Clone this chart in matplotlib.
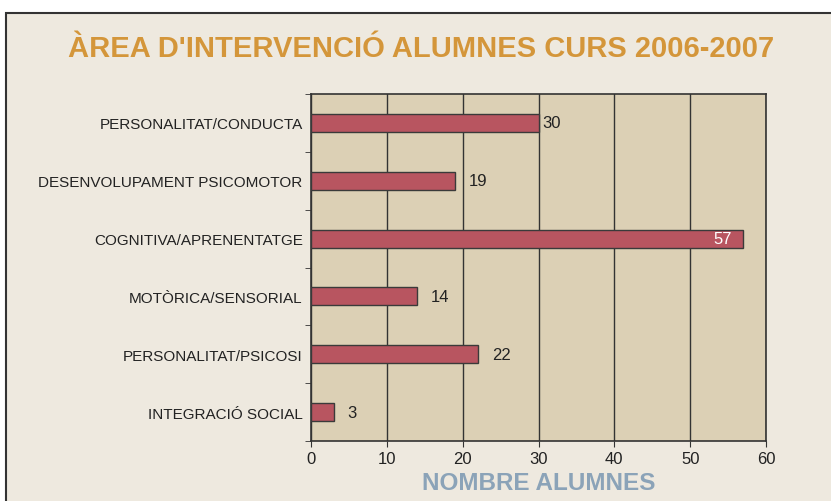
import matplotlib
matplotlib.use("Agg")
import matplotlib.pyplot as plt
from matplotlib.patches import Rectangle
import numpy as np

# data (top to bottom as in the chart)
categories = [
    "PERSONALITAT/CONDUCTA",
    "DESENVOLUPAMENT PSICOMOTOR",
    "COGNITIVA/APRENENTATGE",
    "MOTÒRICA/SENSORIAL",
    "PERSONALITAT/PSICOSI",
    "INTEGRACIÓ SOCIAL",
]
alumnes = [30, 19, 57, 14, 22, 3]
x_ticks = [0, 10, 20, 30, 40, 50, 60]

title = "ÀREA D'INTERVENCIÓ ALUMNES CURS 2006-2007"
xlabel = "NOMBRE ALUMNES"

plt.rcParams["font.family"] = ["Liberation Sans", "DejaVu Sans"]

fig = plt.figure(figsize=(8.31, 5.02), dpi=100)
fig.patch.set_facecolor("white")
# panel background with border
fig.patches.append(Rectangle((6 / 831, -0.01), 1.0, 1 - 14 / 502 + 0.01,
                             transform=fig.transFigure, facecolor="#EEE9DF",
                             edgecolor="#333333", linewidth=1.5, zorder=-1))

ax = fig.add_axes([311 / 831, 1 - 442 / 502, 455 / 831, 347 / 502])
ax.set_zorder(2)
ax.set_facecolor("#DCD0B5")

y = np.arange(len(categories))
ax.barh(y, alumnes, height=0.31, color="#B85560", edgecolor="#3a3a3a",
        linewidth=1, zorder=3)

for yi, v in zip(y, alumnes):
    if v > 50:
        ax.annotate(str(v), (v, yi), xytext=(-8, 0), textcoords="offset points",
                    ha="right", va="center", color="white", fontsize=12, zorder=4)
    else:
        off = 3 if v == 30 else 10
        ax.annotate(str(v), (v, yi), xytext=(off, 0), textcoords="offset points",
                    ha="left", va="center", color="#222222", fontsize=12, zorder=4)

ax.set_xlim(0, 60)
ax.set_ylim(len(categories) - 0.5, -0.5)
ax.set_xticks(x_ticks)
ax.set_yticks(y)
ax.set_yticklabels(categories)
ax.set_yticks(np.arange(-0.5, len(categories)), minor=True)
ax.tick_params(axis="y", which="major", length=0, pad=6, labelsize=11,
               labelcolor="#222222")
ax.tick_params(axis="y", which="minor", length=4, direction="out", color="#333333")
ax.tick_params(axis="x", length=4, direction="out", labelsize=12,
               labelcolor="#222222", color="#333333", pad=3)

ax.grid(True, axis="x", color="#333333", linewidth=1, zorder=1)
ax.set_axisbelow(True)
for s in ax.spines.values():
    s.set_color("#333333")
    s.set_linewidth(1.2)

ax.set_xlabel(xlabel, fontsize=17.5, fontweight="bold", color="#8BA3B8", labelpad=4)

fig.text(421 / 831, 1 - 49 / 502, title, ha="center", va="center",
         fontsize=21, fontweight="bold", color="#D4963A")

fig.savefig("out.png", dpi=100)
